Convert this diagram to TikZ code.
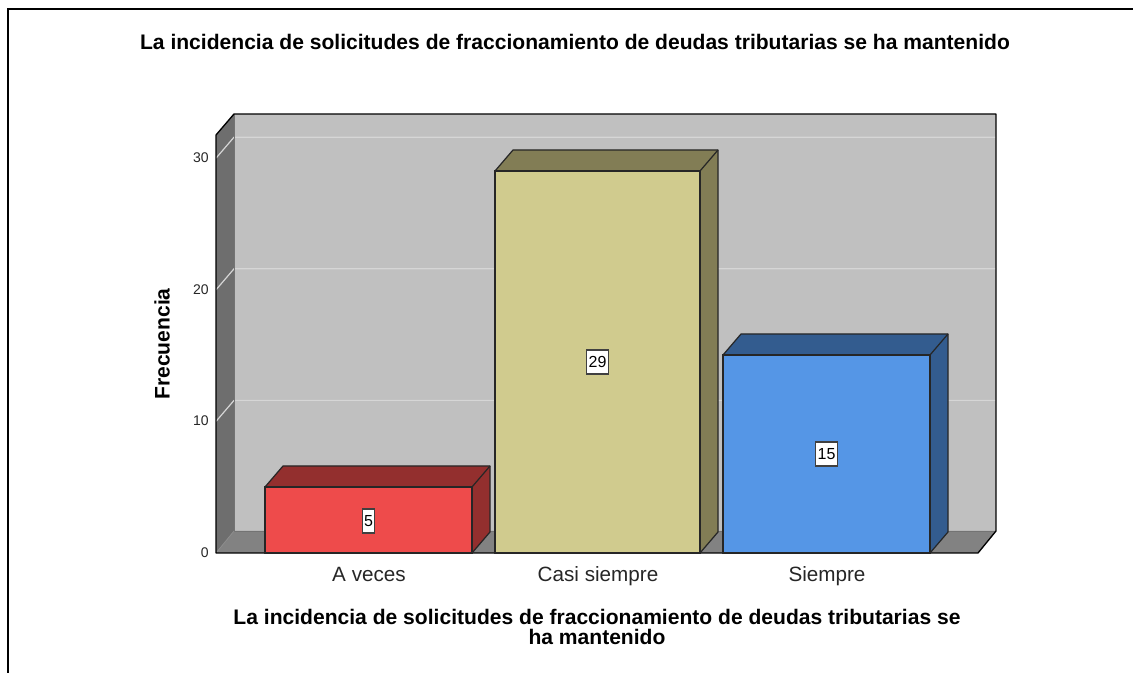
\documentclass[tikz,border=0pt]{standalone}
\usepackage{fontspec}
\setmainfont{Liberation Sans}
\definecolor{wallback}{HTML}{C0C0C0}
\definecolor{wallside}{HTML}{6E6E6E}
\definecolor{floorc}{HTML}{828282}
\definecolor{gridc}{HTML}{D6D6D6}
\definecolor{redf}{HTML}{EE4B4B}
\definecolor{reds}{HTML}{932F2E}
\definecolor{khf}{HTML}{D0CB8E}
\definecolor{khs}{HTML}{827D55}
\definecolor{bluf}{HTML}{5596E6}
\definecolor{blus}{HTML}{335C8F}
\newcommand\drawbox[5]{%
  \fill[#4] (#1,553) rectangle (#2,#3);
  \filldraw[fill=#5,draw=black!85,line width=0.9pt,line join=round] (#1,#3) -- ++(18,-21) -- ($(#2,#3)+(18,-21)$) -- ($(#2,553)+(18,-21)$) -- (#2,553) -- (#2,#3) -- cycle;
  \draw[black!85,line width=0.9pt] (#1,553) rectangle (#2,#3);
  \draw[black!85,line width=0.9pt] (#2,#3) -- ++(18,-21);
}
\usetikzlibrary{calc}
\tikzset{
  ticklab/.style={anchor=east,font=\fontsize{10.5}{11}\selectfont,text=black!85,inner sep=0pt},
  catlab/.style={anchor=base,inner sep=0pt,font=\fontsize{15.5}{17}\selectfont,text=black!85},
  vallab/.style={draw=black!75,fill=white,line width=0.8pt,font=\fontsize{12}{13}\selectfont,inner sep=1.5pt,minimum height=18pt},
  titlelab/.style={font=\bfseries\fontsize{15.8}{17}\selectfont},
  axtitle/.style={font=\bfseries\fontsize{15.8}{15}\selectfont,align=center},
  gridline/.style={gridc,line width=0.9pt}
}
\begin{document}
\begin{tikzpicture}[x=0.75pt,y=-0.75pt]
\useasboundingbox (0,0) rectangle (1133,673);
\draw[line width=2.2pt] (8,673) -- (8,9) -- (1133,9);
% walls
\fill[wallback] (234,114) rectangle (996,531);
\fill[wallside] (216,135) -- (234,114) -- (234,531) -- (216,553) -- cycle;
\fill[floorc] (216,553) -- (234,531) -- (996,531) -- (978,553) -- cycle;
% grid
\foreach \v in {10,20,30}{
  \pgfmathsetmacro\yf{553-\v*13.16}
  \draw[gridline] (216,\yf) -- (234,\yf-21) -- (996,\yf-21);
}
\draw[black!55,line width=0.6pt] (234,114) -- (234,531) -- (996,531);
\draw[black!45,line width=0.6pt] (234,531) -- (216,553);
\draw[black,line width=1pt,line join=round] (216,553) -- (216,135) -- (234,114) -- (996,114) -- (996,531) -- (978,553) -- cycle;
% bars
\drawbox{265}{472}{487}{redf}{reds}
\drawbox{495}{700}{171}{khf}{khs}
\drawbox{723}{930}{355}{bluf}{blus}
% value labels
\node[vallab] (v1) at (368.5,521) {5};
\node[vallab] (v2) at (597.5,362) {29};
\node[vallab] (v3) at (826.5,454) {15};
% ticks
\node[ticklab] (t0) at (209,553) {0};
\node[ticklab] (t10) at (209,421) {10};
\node[ticklab] (t20) at (209,290) {20};
\node[ticklab] (t30) at (209,158) {30};
% categories
\node[catlab] (c1) at (369,582) {A veces};
\node[catlab] (c2) at (598,582) {Casi siempre};
\node[catlab] (c3) at (827,582) {Siempre};
% titles
\node[titlelab] (title) at (575,42) {La incidencia de solicitudes de fraccionamiento de deudas tributarias se ha mantenido};
\node[axtitle] (xt) at (597,627) {La incidencia de solicitudes de fraccionamiento de deudas tributarias se\\ha mantenido};
\node[axtitle,rotate=90] (yt) at (162,344) {Frecuencia};
\end{tikzpicture}
\end{document}
